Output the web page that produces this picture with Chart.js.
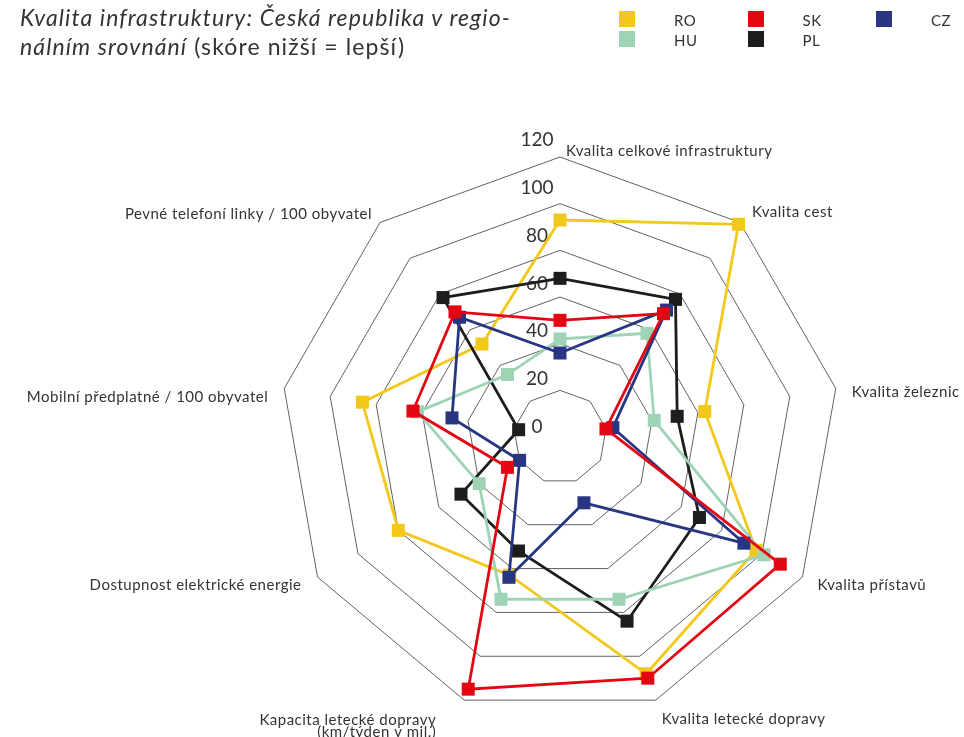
<!DOCTYPE html>
<html lang="cs">
<head>
<meta charset="utf-8">
<script src="https://cdn.jsdelivr.net/npm/chart.js@4/dist/chart.umd.min.js"></script>
<style>
  html, body { margin: 0; padding: 0; background: #fff; }
  body { width: 964px; height: 737px; position: relative; overflow: hidden; font-family: Lato, "Noto Sans", sans-serif; color: #333; }
  canvas { position: absolute; left: 0; top: 0; }
  #title { position: absolute; left: 20px; top: 3px; font-size: 23px; line-height: 29px; letter-spacing: 1.1px; white-space: nowrap; }
  .box { position: absolute; width: 16px; height: 16px; }
  .txt { position: absolute; font-size: 15px; line-height: 16px; letter-spacing: 0.5px; }
</style>
</head>
<body>
<canvas id="radar" width="964" height="737"></canvas>
<div id="title"><i>Kvalita infrastruktury: Česká republika v regio-<br>nálním srovnání</i> (skóre nižší = lepší)</div>
<div id="legend"></div>
<script>
// categories clockwise from the top
const categories = [
  ['Kvalita celkové infrastruktury'],
  ['Kvalita cest'],
  ['Kvalita železnic'],
  ['Kvalita přístavů'],
  ['Kvalita letecké dopravy'],
  ['Kapacita letecké dopravy', '(km/týden v mil.)'],
  ['Dostupnost elektrické energie'],
  ['Mobilní předplatné / 100 obyvatel'],
  ['Pevné telefoní linky / 100 obyvatel']
];
const seriesNames = ['RO', 'SK', 'CZ', 'HU', 'PL'];
const roValues = [93, 119, 63, 97, 108, 63, 80, 86, 52];
const skValues = [50, 69, 20, 109, 110, 115, 26, 64, 70];
const czValues = [36, 71, 23, 91, 30, 64, 20, 47, 67];
const huValues = [42, 58, 41, 101, 74, 74, 40, 62, 35];
const plValues = [68, 77, 51, 69, 84, 52, 49, 18, 78];
const tickValues = [0, 20, 40, 60, 80, 100, 120];

const seriesValues = [roValues, skValues, czValues, huValues, plValues];
const colors = ['#F2C81A', '#E30613', '#283583', '#9FD3B6', '#1D1D1B'];
const drawOrder = [5, 1, 2, 3, 4]; // RO at the bottom, SK on top

// label offsets from the 120 ring vertex: dx, dy, align
const labelOffsets = [
  [6, -6, 'left'], [12, -10, 'left'], [16, 4, 'left'], [15, 8, 'left'],
  [6, 19, 'left'], [-28, 20, 'right'], [-16, 8, 'right'], [-16, 9, 'right'],
  [-8, -8, 'right']
];

// legend, 3 columns
const legend = document.getElementById('legend');
seriesNames.forEach((name, i) => {
  const x = 619 + (i % 3) * 128.5;
  const y = 11 + Math.floor(i / 3) * 20;
  const b = document.createElement('div');
  b.className = 'box';
  b.style.left = x + 'px'; b.style.top = y + 'px';
  b.style.background = colors[i];
  const t = document.createElement('div');
  t.className = 'txt';
  t.style.left = (x + 55) + 'px'; t.style.top = (y + 1) + 'px';
  t.textContent = name;
  legend.appendChild(b); legend.appendChild(t);
});

const radarText = {
  id: 'radarText',
  beforeDatasetsDraw(chart) {
    const s = chart.scales.r;
    const ctx = chart.ctx;
    ctx.save();
    ctx.fillStyle = '#333';
    ctx.textBaseline = 'middle';

    ctx.font = '19px Lato';
    ctx.textAlign = 'center';
    tickValues.forEach(v => {
      const d = s.getDistanceFromCenterForValue(v);
      ctx.fillText(String(v), s.xCenter - 23, s.yCenter - d * 1.025 - 10);
    });

    ctx.font = '15px Lato';
    ctx.letterSpacing = '0.5px';
    categories.forEach((lines, i) => {
      const p = s.getPointPositionForValue(i, 120);
      const o = labelOffsets[i];
      ctx.textAlign = o[2];
      lines.forEach((t, k) => ctx.fillText(t, p.x + o[0], p.y + o[1] + k * 12));
    });
    ctx.restore();
  }
};

new Chart(document.getElementById('radar'), {
  type: 'radar',
  data: {
    labels: categories,
    datasets: seriesNames.map((name, i) => ({
      label: name,
      data: seriesValues[i],
      order: drawOrder[i],
      borderColor: colors[i],
      backgroundColor: colors[i],
      borderWidth: 2.8,
      fill: false,
      pointStyle: 'rect',
      pointRadius: 9.2,
      pointBorderWidth: 0,
      pointBackgroundColor: colors[i]
    }))
  },
  options: {
    responsive: false,
    animation: false,
    plugins: {
      legend: { display: false },
      tooltip: { enabled: false }
    },
    scales: {
      r: {
        min: 0,
        max: 120,
        ticks: { stepSize: 20, display: false },
        grid: { color: '#3a3a3a', lineWidth: 0.8 },
        angleLines: { display: false },
        pointLabels: { display: false },
        afterFit: (s) => {
          s.xCenter = 560;
          s.yCenter = 437;
          s.drawingArea = 280;
        }
      }
    }
  },
  plugins: [radarText]
});
</script>
</body>
</html>
